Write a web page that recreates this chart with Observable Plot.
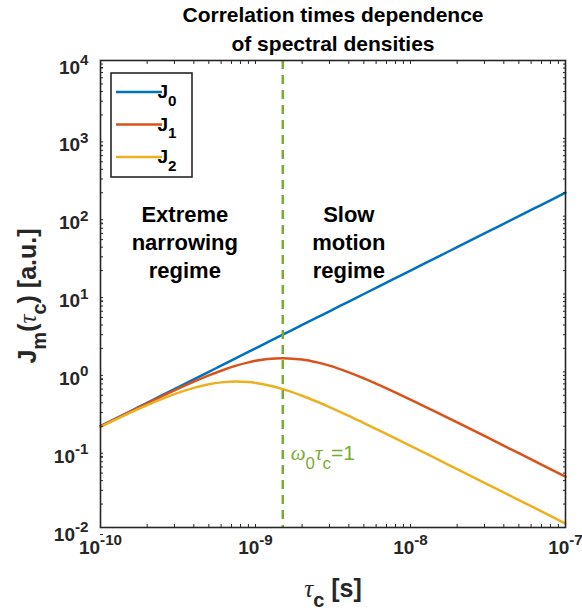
<!DOCTYPE html>
<html><head><meta charset="utf-8">
<script src="https://cdn.jsdelivr.net/npm/d3@7"></script>
<script src="https://cdn.jsdelivr.net/npm/@observablehq/plot@0.6"></script>
<style>html,body{margin:0;padding:0;background:#fff}svg{display:block}</style>
</head><body><div id="chart"></div>
<script>
// ---- data ----
const tau = [1e-10, 1.5e-10, 2e-10, 3e-10, 4e-10, 5e-10, 6e-10, 7.5e-10, 9e-10, 1e-9, 1.2e-9, 1.5e-9, 2e-9, 2.5e-9, 3e-9, 4e-9, 5e-9, 7e-9, 1e-8, 1.5e-8, 2e-8, 3e-8, 5e-8, 7e-8, 1e-7];
const J0 = [0.2, 0.3, 0.4, 0.6, 0.8, 1.0, 1.2, 1.5, 1.8, 2.0, 2.4, 3.0, 4.0, 5.0, 6.0, 8.0, 10, 14, 20, 30, 40, 60, 100, 140, 200];
const J1 = [0.199, 0.297, 0.393, 0.577, 0.747, 0.90, 1.034, 1.20, 1.324, 1.385, 1.463, 1.50, 1.44, 1.323, 1.20, 0.986, 0.826, 0.615, 0.440, 0.297, 0.224, 0.150, 0.090, 0.0643, 0.045];
const J2 = [0.1965, 0.2885, 0.373, 0.517, 0.623, 0.692, 0.732, 0.75, 0.738, 0.72, 0.674, 0.60, 0.493, 0.413, 0.353, 0.272, 0.220, 0.159, 0.112, 0.0748, 0.0562, 0.0375, 0.0225, 0.0161, 0.01125];
const seriesNames = ["J_{0}", "J_{1}", "J_{2}"];
const seriesColors = ["#0072BD", "#D95319", "#EDB120"];
const xMajor = [1e-10, 1e-9, 1e-8, 1e-7];
const xTickLabels = ["10^{-10}", "10^{-9}", "10^{-8}", "10^{-7}"];
const yMajor = [1e-2, 1e-1, 1e0, 1e1, 1e2, 1e3, 1e4];
const yTickLabels = ["10^{-2}", "10^{-1}", "10^{0}", "10^{1}", "10^{2}", "10^{3}", "10^{4}"];
const omegaTau1 = 1.5e-9;
const titleLines = ["Correlation times dependence", "of spectral densities"];
const xLabel = "τ_{c} [s]";
const yLabel = "J_{m}(τ_{c}) [a.u.]";
const regimeLabels = [
  {t: 3.5e-10, v: 48, text: "Extreme\nnarrowing\nregime"},
  {t: 4.0e-9, v: 48, text: "Slow\nmotion\nregime"}
];
const markerLabel = {t: omegaTau1, v: 0.09, text: "ω_{0}τ_{c}=1"};

// ---- derived tables ----
const rows = [];
[J0, J1, J2].forEach((arr, k) => tau.forEach((t, i) => rows.push({t, J: arr[i], s: seriesNames[k]})));
const minorOf = (majors) => majors.slice(0, -1).flatMap(m => [2,3,4,5,6,7,8,9].map(f => m * f));
const xMinor = minorOf(xMajor), yMinor = minorOf(yMajor);
const xAll = xMajor.concat(xMinor), yAll = yMajor.concat(yMinor);

const FONT = "'Liberation Sans', Arial, Helvetica, sans-serif";
const ink = "#262626";
const blank = () => "";

const plot = Plot.plot({
  width: 582, height: 613,
  marginLeft: 100, marginRight: 17, marginTop: 60, marginBottom: 86,
  style: {fontFamily: FONT, fontWeight: "bold", color: ink, background: "#fff", overflow: "visible"},
  x: {type: "log", domain: [1e-10, 1e-7]},
  y: {type: "log", domain: [1e-2, 1e4]},
  color: {domain: seriesNames, range: seriesColors},
  marks: [
    Plot.line(rows, {x: "t", y: "J", stroke: "s", z: "s", curve: "catmull-rom", strokeWidth: 2.5}),
    Plot.ruleX([omegaTau1], {stroke: "#77AC30", strokeWidth: 2.5, strokeDasharray: "9,6"}),
    Plot.text(regimeLabels, {x: "t", y: "v", text: "text", fontSize: 22, lineHeight: 1.27, fill: "#000", fontWeight: "bold"}),
    Plot.text([markerLabel], {x: "t", y: "v", text: "text", dx: 8, textAnchor: "start", fontSize: 21, fontWeight: "normal", fill: "#77AC30"}),
    Plot.axisX(xMajor, {anchor: "bottom", tickSize: -3, tickPadding: 16, fontSize: 19, label: null, stroke: ink,
      tickFormat: d => xTickLabels[xMajor.indexOf(d)]}),
    Plot.axisX(xMinor, {anchor: "bottom", tickSize: -3, tickFormat: blank, label: null, stroke: ink}),
    Plot.axisX(xAll, {anchor: "top", tickSize: -3, tickFormat: blank, label: null, stroke: ink}),
    Plot.axisY(yMajor, {anchor: "left", tickSize: -3, tickPadding: 15, fontSize: 19, dy: 7, label: null, stroke: ink,
      tickFormat: d => yTickLabels[yMajor.indexOf(d)]}),
    Plot.axisY(yMinor, {anchor: "left", tickSize: -3, tickFormat: blank, label: null, stroke: ink}),
    Plot.axisY(yAll, {anchor: "right", tickSize: -3, tickFormat: blank, label: null, stroke: ink}),
    Plot.frame({stroke: ink, strokeWidth: 1.6}),
    Plot.text([xLabel], {frameAnchor: "bottom", textAnchor: "middle", lineAnchor: "middle", dy: 61, fontSize: 25, fill: ink}),
    Plot.text([yLabel], {frameAnchor: "left", textAnchor: "middle", lineAnchor: "middle", dx: -73, dy: 2, rotate: -90, fontSize: 25, fill: ink}),
    Plot.text([titleLines[0]], {frameAnchor: "top", textAnchor: "middle", lineAnchor: "middle", dy: -45, fontSize: 21, fill: "#000"}),
    Plot.text([titleLines[1]], {frameAnchor: "top", textAnchor: "middle", lineAnchor: "middle", dy: -16, fontSize: 21, fill: "#000"})
  ]
});

// ---- rich text (super/subscripts, Greek in italic) ----
const NS = "http://www.w3.org/2000/svg";
function sizeOf(el) {
  let n = el;
  while (n && n.getAttribute) {
    const f = n.getAttribute("font-size");
    if (f) return parseFloat(f);
    n = n.parentNode;
  }
  return 16;
}
function rich(el) {
  const s = el.textContent;
  if (!/[\^_]|[α-ω]/.test(s)) return false;
  const base = sizeOf(el);
  const supSize = +(base * 0.8).toFixed(1), subSize = +(base * 0.8).toFixed(1);
  const supShift = -base * 0.45, subShift = base * 0.42;
  while (el.firstChild) el.removeChild(el.firstChild);
  let shift = 0;
  const re = /([\^_])\{([^}]*)\}|([^\^_]+)/g;
  let m;
  const add = (txt, target, size, greek) => {
    const ts = document.createElementNS(NS, "tspan");
    ts.textContent = txt;
    const dy = target - shift;
    if (Math.abs(dy) > 0.01) ts.setAttribute("dy", dy.toFixed(2));
    if (size) ts.setAttribute("font-size", size);
    if (greek) { ts.setAttribute("font-style", "italic"); ts.setAttribute("font-weight", "normal"); ts.setAttribute("font-family", "'Liberation Serif', 'DejaVu Serif', serif"); }
    shift = target;
    el.appendChild(ts);
  };
  while ((m = re.exec(s))) {
    if (m[1]) add(m[2], m[1] === "^" ? supShift : subShift, m[1] === "^" ? supSize : subSize, false);
    else m[3].split(/([α-ω])/).filter(p => p).forEach(p => add(p, 0, null, /[α-ω]/.test(p)));
  }
  return true;
}
plot.querySelectorAll("text").forEach(t => {
  if (t.children.length === 0) rich(t);
  else t.querySelectorAll("tspan").forEach(rich);
});

// ---- legend box ----
const svg = d3.select(plot);
const lg = svg.append("g").attr("transform", "translate(111,73)");
lg.append("rect").attr("width", 81).attr("height", 104).attr("fill", "#fff").attr("stroke", ink).attr("stroke-width", 1.6);
seriesNames.forEach((name, i) => {
  const y = 19 + i * 32.5;
  lg.append("line").attr("x1", 5).attr("x2", 51).attr("y1", y).attr("y2", y)
    .attr("stroke", seriesColors[i]).attr("stroke-width", 2.5);
  const t = lg.append("text").attr("x", 56).attr("y", y + 6).attr("font-size", 19)
    .attr("font-weight", "bold").attr("fill", "#000").attr("font-family", FONT).text(name);
  rich(t.node());
});

document.getElementById("chart").appendChild(plot);
</script>
</body></html>
